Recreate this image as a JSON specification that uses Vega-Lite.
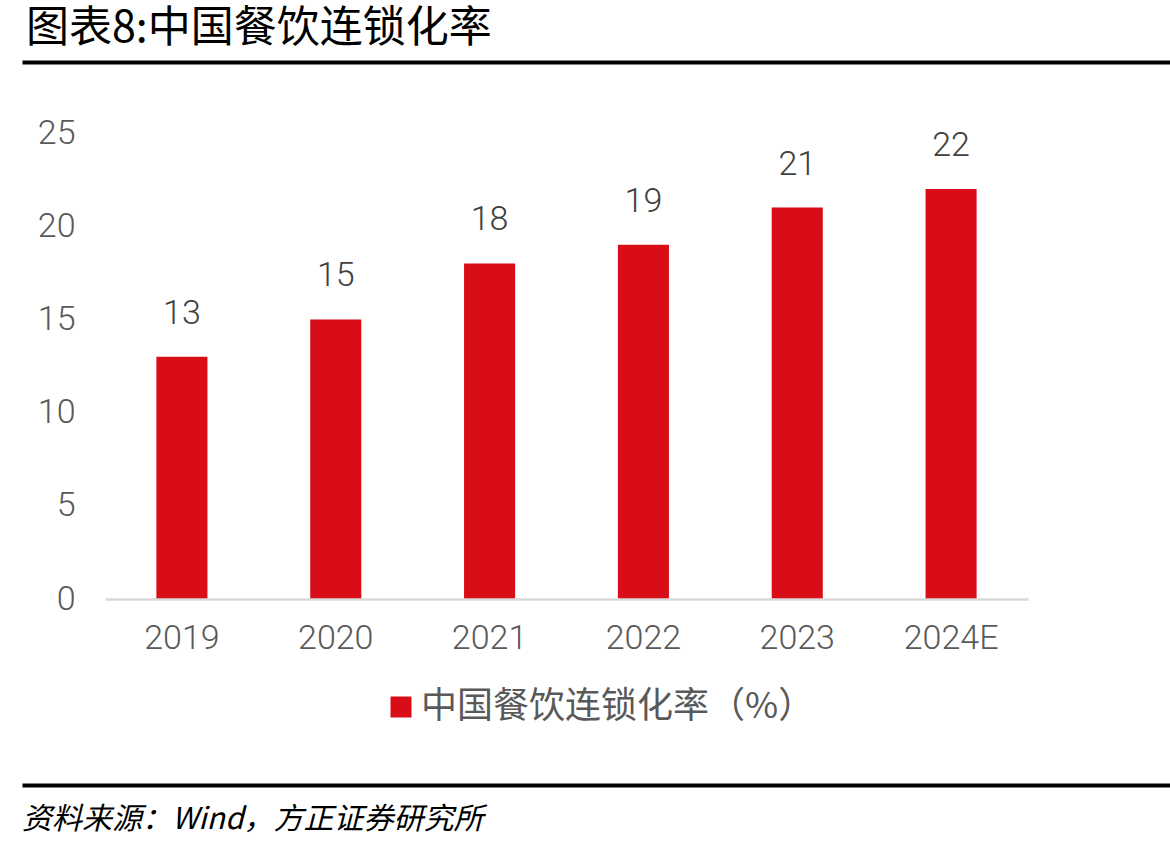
{
  "$schema": "https://vega.github.io/schema/vega-lite/v6.json",
  "background": "#ffffff",
  "padding": {"left": 22, "top": 7, "right": 0, "bottom": 0},
  "spacing": 48,
  "resolve": {"scale": {"color": "independent"}, "legend": {"color": "independent"}},
  "config": {
    "view": {"stroke": null},
    "font": "Noto Sans CJK SC"
  },
  "vconcat": [
    {
      "width": 1065,
      "height": 1,
      "data": {"values": [{"v": 0}]},
      "title": {
        "text": "图表8:中国餐饮连锁化率",
        "anchor": "start",
        "frame": "bounds",
        "font": "Noto Sans CJK SC",
        "fontSize": 43,
        "fontWeight": "normal",
        "color": "#000000",
        "dx": 4,
        "offset": 6
      },
      "mark": {"type": "text"},
      "encoding": {
        "x": {
          "field": "v",
          "type": "quantitative",
          "scale": {"domain": [0, 1], "range": [0, 1148]},
          "axis": {
            "orient": "top",
            "position": -83,
            "title": null,
            "labels": false,
            "ticks": false,
            "grid": false,
            "domainColor": "#000000",
            "domainWidth": 4
          }
        },
        "text": {"value": ""}
      }
    },
    {
      "width": 923,
      "height": 466,
      "data": {
        "values": [
          {"year": "2019", "rate": 13, "series": "中国餐饮连锁化率（%）"},
          {"year": "2020", "rate": 15, "series": "中国餐饮连锁化率（%）"},
          {"year": "2021", "rate": 18, "series": "中国餐饮连锁化率（%）"},
          {"year": "2022", "rate": 19, "series": "中国餐饮连锁化率（%）"},
          {"year": "2023", "rate": 21, "series": "中国餐饮连锁化率（%）"},
          {"year": "2024E", "rate": 22, "series": "中国餐饮连锁化率（%）"}
        ]
      },
      "encoding": {
        "x": {
          "field": "year",
          "type": "nominal",
          "sort": null,
          "scale": {"paddingInner": 0.668, "paddingOuter": 0.334},
          "axis": {
            "title": null,
            "labelAngle": 0,
            "labelFont": "Roboto",
            "labelFontWeight": 300,
            "labelFontSize": 34,
            "labelColor": "#595959",
            "labelPadding": 22,
            "ticks": false,
            "domainColor": "#d9d9d9",
            "domainWidth": 2.5,
            "zindex": 1
          }
        },
        "y": {
          "field": "rate",
          "type": "quantitative",
          "scale": {"domain": [0, 25], "nice": false},
          "axis": {
            "title": null,
            "values": [0, 5, 10, 15, 20, 25],
            "labelFont": "Roboto",
            "labelFontWeight": 300,
            "labelFontSize": 34,
            "labelColor": "#595959",
            "labelPadding": 30,
            "ticks": false,
            "domain": false,
            "grid": false,
            "minExtent": 83,
            "maxExtent": 83
          }
        }
      },
      "layer": [
        {
          "mark": {"type": "bar", "color": "#D90D18"},
          "encoding": {
            "color": {
              "field": "series",
              "type": "nominal",
              "scale": {"range": ["#D90D18"]},
              "legend": {
                "orient": "none",
                "legendX": 272,
                "legendY": 550,
                "title": null,
                "padding": 6,
                "fillColor": "#ffffff",
                "symbolType": "square",
                "symbolSize": 441,
                "symbolStrokeWidth": 0,
                "labelFont": "Noto Sans CJK SC",
                "labelFontSize": 36,
                "labelColor": "#595959",
                "labelOffset": 2,
                "labelLimit": 0
              }
            }
          }
        },
        {
          "mark": {
            "type": "text",
            "font": "Roboto",
            "fontWeight": 300,
            "fontSize": 34,
            "color": "#404040",
            "baseline": "alphabetic",
            "dy": -33
          },
          "encoding": {
            "text": {"field": "rate", "type": "quantitative"}
          }
        }
      ]
    },
    {
      "width": 1065,
      "height": 1,
      "data": {"values": [{"v": 0}]},
      "title": {
        "text": "资料来源：Wind，方正证券研究所",
        "orient": "bottom",
        "anchor": "start",
        "frame": "bounds",
        "font": "Noto Sans CJK SC",
        "fontSize": 30,
        "fontStyle": "italic",
        "fontWeight": "normal",
        "color": "#000000",
        "offset": 14
      },
      "mark": {"type": "text"},
      "encoding": {
        "x": {
          "field": "v",
          "type": "quantitative",
          "scale": {"domain": [0, 1], "range": [0, 1148]},
          "axis": {
            "orient": "top",
            "position": -83,
            "title": null,
            "labels": false,
            "ticks": false,
            "grid": false,
            "domainColor": "#000000",
            "domainWidth": 4
          }
        },
        "text": {"value": ""}
      }
    }
  ]
}
